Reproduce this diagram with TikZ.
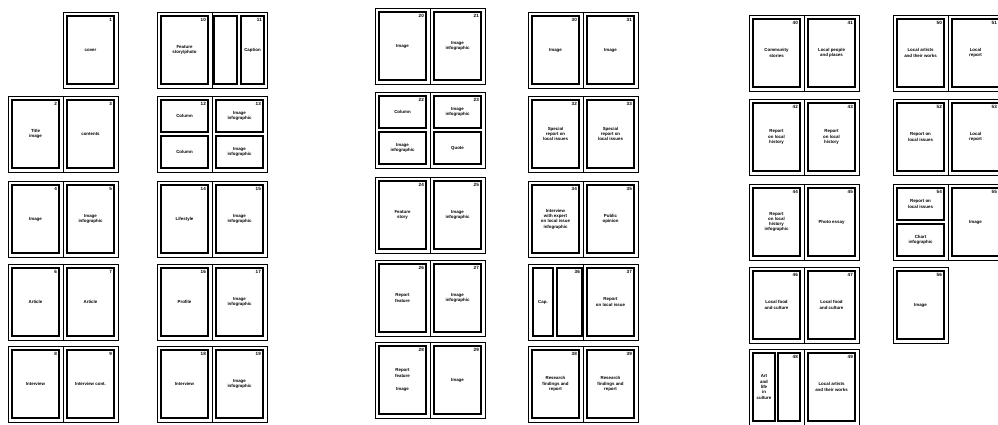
\documentclass[tikz,border=0pt]{standalone}
\usepackage{fontspec}
\setmainfont{Liberation Sans}
\newcommand{\Spread}[2]{\draw[spread] (#1,#2) rectangle ++(110,76); \draw[spread] (#1+55,#2) -- ++(0,76);}
\newcommand{\SingleR}[2]{\draw[spread] (#1+55,#2) rectangle ++(55,76);}
\newcommand{\SingleL}[2]{\draw[spread] (#1,#2) rectangle ++(55,76);}
\newcommand{\LP}[4]{\node[page] (p#1) at (#2+27.5,#3+38) {#4}; \node[num] (n#1) at ([shift={(-2.5pt,-2.5pt)}]p#1.north east) {#1};}
\newcommand{\RP}[4]{\node[page] (p#1) at (#2+82.5,#3+38) {#4}; \node[num] (n#1) at ([shift={(-2.5pt,-2.5pt)}]p#1.north east) {#1};}
\newcommand{\LS}[5]{\node[half] (p#1a) at (#2+27.5,#3+20) {#4}; \node[half] (p#1b) at (#2+27.5,#3+56) {#5}; \node[num] (n#1) at ([shift={(-2.5pt,-2.5pt)}]p#1a.north east) {#1};}
\newcommand{\RS}[5]{\node[half] (p#1a) at (#2+82.5,#3+20) {#4}; \node[half] (p#1b) at (#2+82.5,#3+56) {#5}; \node[num] (n#1) at ([shift={(-2.5pt,-2.5pt)}]p#1a.north east) {#1};}
\begin{document}
\begin{tikzpicture}[x=1pt,y=-1pt,
  spread/.style={draw,line width=0.8pt},
  txt/.style={font=\fontsize{4.4}{5.3}\selectfont\bfseries},
  page/.style={draw,line width=1.1pt,minimum width=47pt,minimum height=68pt,inner sep=0pt,align=center,txt},
  half/.style={page,minimum height=32pt},
  panel/.style={page,minimum width=23pt},
  num/.style={anchor=north east,inner sep=0pt,font=\fontsize{4.6}{5}\selectfont\bfseries}]
\useasboundingbox (0,0) rectangle (998,425);
% ---------- column 1 (x=8)
\SingleR{8}{12}
\RP{1}{8}{12}{cover}
\Spread{8}{96}
\LP{2}{8}{96}{Title\\image}
\RP{3}{8}{96}{contents}
\Spread{8}{181}
\LP{4}{8}{181}{Image}
\RP{5}{8}{181}{Image\\infographic}
\Spread{8}{264}
\LP{6}{8}{264}{Article}
\RP{7}{8}{264}{Article}
\Spread{8}{346}
\LP{8}{8}{346}{Interview}
\RP{9}{8}{346}{Interview cont.}
% ---------- column 2 (x=157)
\Spread{157}{12}
\LP{10}{157}{12}{Feature\\story/photo}
\node[panel] (p11a) at (157+68.5,12+38) {};
\node[panel] (p11) at (157+95.5,12+38) {Caption};
\node[num] (n11) at ([shift={(-2.5pt,-2.5pt)}]p11.north east) {11};
\Spread{157}{96}
\LS{12}{157}{96}{Column}{Column}
\RS{13}{157}{96}{Image\\infographic}{Image\\infographic}
\Spread{157}{181}
\LP{14}{157}{181}{Lifestyle}
\RP{15}{157}{181}{Image\\infographic}
\Spread{157}{264}
\LP{16}{157}{264}{Profile}
\RP{17}{157}{264}{Image\\infographic}
\Spread{157}{346}
\LP{18}{157}{346}{Interview}
\RP{19}{157}{346}{Image\\infographic}
% ---------- column 3 (x=375)
\Spread{375}{8}
\LP{20}{375}{8}{Image}
\RP{21}{375}{8}{Image\\infographic}
\Spread{375}{92}
\LS{22}{375}{92}{Column}{Image\\infographic}
\RS{23}{375}{92}{Image\\infographic}{Quote}
\Spread{375}{177}
\LP{24}{375}{177}{Feature\\story}
\RP{25}{375}{177}{Image\\infographic}
\Spread{375}{260}
\LP{26}{375}{260}{Report\\feature}
\RP{27}{375}{260}{Image\\infographic}
\Spread{375}{342}
\LP{28}{375}{342}{Report\\feature\\[8pt]Image}
\RP{29}{375}{342}{Image}
% ---------- column 4 (x=528)
\Spread{528}{12}
\LP{30}{528}{12}{Image}
\RP{31}{528}{12}{Image}
\Spread{528}{96}
\LP{32}{528}{96}{Special\\report on\\local issues}
\RP{33}{528}{96}{Special\\report on\\local issues}
\Spread{528}{181}
\LP{34}{528}{181}{Interview\\with expert\\on local issue\\infographic}
\RP{35}{528}{181}{Public\\opinion}
\Spread{528}{264}
\node[panel,minimum width=20pt] (p36a) at (528+15,264+38) {Cap.};
\node[panel,minimum width=25pt] (p36) at (528+41.5,264+38) {};
\node[num] (n36) at ([shift={(-2.5pt,-2.5pt)}]p36.north east) {36};
\RP{37}{528}{264}{Report\\on local issue}
\Spread{528}{346}
\LP{38}{528}{346}{Research\\findings and\\report}
\RP{39}{528}{346}{Research\\findings and\\report}
% ---------- column 5 (x=749)
\Spread{749}{15}
\LP{40}{749}{15}{Community\\stories}
\RP{41}{749}{15}{Local people\\and places}
\Spread{749}{99}
\LP{42}{749}{99}{Report\\on local\\history}
\RP{43}{749}{99}{Report\\on local\\history}
\Spread{749}{184}
\LP{44}{749}{184}{Report\\on local\\history\\infographic}
\RP{45}{749}{184}{Photo essay}
\Spread{749}{267}
\LP{46}{749}{267}{Local food\\and culture}
\RP{47}{749}{267}{Local food\\and culture}
\Spread{749}{349}
\node[panel,minimum width=22pt] (p48a) at (749+15,349+38) {Art\\and\\life\\in\\culture};
\node[panel,minimum width=22pt] (p48) at (749+40,349+38) {};
\node[num] (n48) at ([shift={(-2.5pt,-2.5pt)}]p48.north east) {48};
\RP{49}{749}{349}{Local artists\\and their works}
% ---------- column 6 (x=893)
\Spread{893}{15}
\LP{50}{893}{15}{Local artists\\and their works}
\RP{51}{893}{15}{Local\\report}
\Spread{893}{99}
\LP{52}{893}{99}{Report on\\local issues}
\RP{53}{893}{99}{Local\\report}
\Spread{893}{184}
\LS{54}{893}{184}{Report on\\local issues}{Chart\\infographic}
\RP{55}{893}{184}{Image}
\SingleL{893}{267}
\LP{56}{893}{267}{Image}
\end{tikzpicture}
\end{document}
